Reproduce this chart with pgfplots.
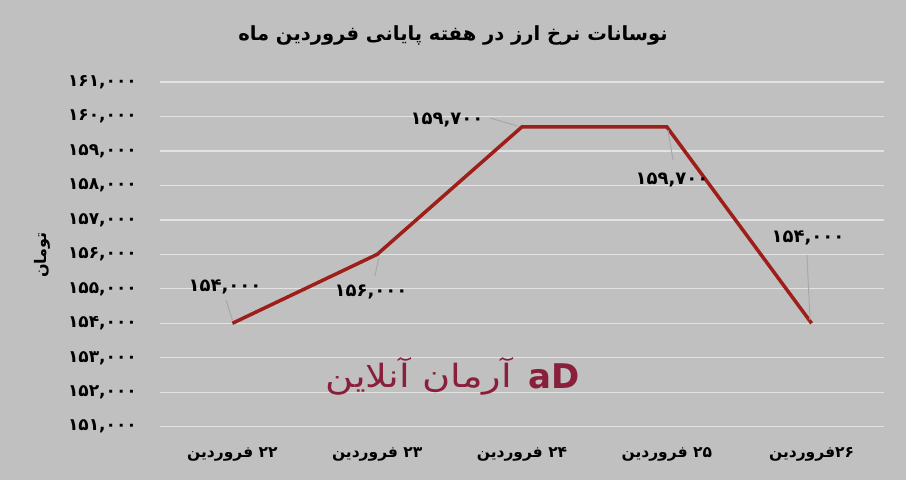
\documentclass[border=0pt]{standalone}
\usepackage{pgfplots}
\pgfplotsset{compat=1.18}
\usepackage{fontspec}
\setmainfont{DejaVu Sans}
\newfontfamily\fa[Script=Arabic]{DejaVu Sans}
\newfontfamily\fd{DejaVu Sans}
\TeXXeTstate=1
\definecolor{bg}{HTML}{C0C0C0}
\definecolor{gridc}{HTML}{E2E2E2}
\definecolor{linered}{HTML}{9E1E1A}
\definecolor{logoc}{HTML}{8A1F3C}
\definecolor{leader}{HTML}{A8A8A8}
\begin{document}
\begin{tikzpicture}
\fill[bg] (0pt,0pt) rectangle (906pt,480pt);
\begin{axis}[
  at={(160pt,53.3pt)}, anchor=south west,
  scale only axis, width=724pt, height=344.7pt,
  xmin=-0.5, xmax=4.5, ymin=151000, ymax=161000,
  scaled y ticks=false,
  axis line style={draw=none},
  tick style={draw=none},
  ymajorgrids, grid style={draw=gridc, line width=1.3pt},
  ytick={151000,152000,...,161000},
  yticklabels={{۱۵۱,۰۰۰},{۱۵۲,۰۰۰},{۱۵۳,۰۰۰},{۱۵۴,۰۰۰},{۱۵۵,۰۰۰},{۱۵۶,۰۰۰},{۱۵۷,۰۰۰},{۱۵۸,۰۰۰},{۱۵۹,۰۰۰},{۱۶۰,۰۰۰},{۱۶۱,۰۰۰}},
  yticklabel style={font=\fd\bfseries\fontsize{17}{17}\selectfont, inner sep=0pt, anchor=east, xshift=-23pt},
  xtick={0,1,2,3,4},
  xticklabels={{\fa\bfseries فروردین\ {\fd ۲۲}},{\fa\bfseries فروردین\ {\fd ۲۳}},{\fa\bfseries فروردین\ {\fd ۲۴}},{\fa\bfseries فروردین\ {\fd ۲۵}},{\fa\bfseries فروردین{\fd ۲۶}}},
  xticklabel style={font=\bfseries\fontsize{15.5}{15.5}\selectfont, inner sep=0pt, anchor=center, yshift=-28pt},
  clip=false,
]
\addplot[color=linered, line width=3.5pt] coordinates {(0,154000)(1,156000)(2,159700)(3,159700)(4,154000)};
% leader lines
\draw[leader, line width=1pt] (axis cs:-0.044,154676) -- (axis cs:0,154095);
\draw[leader, line width=1pt] (axis cs:1.011,155894) -- (axis cs:0.984,155372);
\draw[leader, line width=1pt] (axis cs:1.777,159956) -- (axis cs:1.97,159724);
\draw[leader, line width=1pt] (axis cs:3.008,159607) -- (axis cs:3.043,158737);
\draw[leader, line width=1pt] (axis cs:3.968,155981) -- (axis cs:3.989,154095);
% data labels
\begin{scope}[every node/.style={font=\fd\bfseries\fontsize{18}{18}\selectfont, inner sep=0pt}]
\node at (axis cs:-0.051,155053) {۱۵۴,۰۰۰};
\node at (axis cs:0.957,154907) {۱۵۶,۰۰۰};
\node at (axis cs:1.482,159895) {۱۵۹,۷۰۰};
\node at (axis cs:3.036,158154) {۱۵۹,۷۰۰};
\node at (axis cs:3.975,156471) {۱۵۴,۰۰۰};
\end{scope}
\end{axis}
\node[font=\fa\bfseries\fontsize{19.5}{19.5}\selectfont] at (453pt,445pt) {\beginR نوسانات نرخ ارز در هفته پایانی فروردین ماه\endR};
\node[font=\fa\bfseries\fontsize{16}{16}\selectfont, rotate=90] at (42pt,225pt) {تومان};
\node[font=\fa\fontsize{32}{32}\selectfont, text=logoc, xscale=1.2] at (419pt,104pt) {\beginR آرمان آنلاین\endR};
\node[font=\fd\bfseries\fontsize{34}{34}\selectfont, text=logoc] at (554pt,104pt) {aD};
\end{tikzpicture}
\end{document}
